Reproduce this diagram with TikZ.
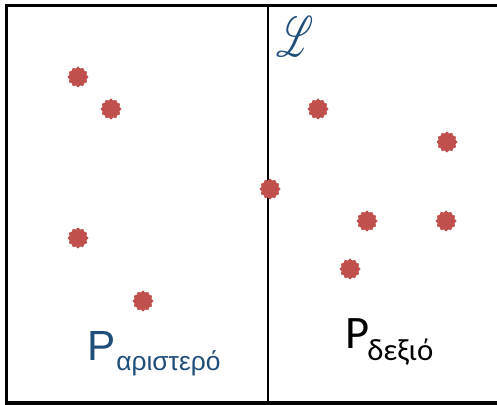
\documentclass[tikz,border=0pt]{standalone}
\usepackage{fontspec}
\usepackage{graphicx}
\usepackage{mathrsfs}
\setmainfont{Carlito}
\newfontfamily\arialfont{Liberation Sans}
\usetikzlibrary{shapes.geometric}
\definecolor{dotred}{HTML}{C0504D}
\definecolor{labelblue}{HTML}{1F4E79}

\begin{document}
\begin{tikzpicture}[
    x=0.02cm, y=-0.02cm,
    % frame and dividing line
    frameline/.style={draw, line width=1.9pt},
    divline/.style={draw, line width=1.4pt},
    % point markers (jagged red dots)
    ptnode/.style={star, star points=12, star point ratio=1.2, fill=dotred, draw=none, minimum size=0.42cm, inner sep=0pt},
    setlabel/.style={inner sep=0pt, anchor=base west}
]
\useasboundingbox (0,0) rectangle (497,405);
\clip (0,0) rectangle (497,405);

% outer frame (right side runs off the picture)
\draw[frameline] (6.5,5.5) rectangle (530,403);

% splitting line L
\coordinate (ltop) at (268,5.5);
\coordinate (lbot) at (268,403);
\draw[divline] (ltop) -- (lbot);
\node[text=labelblue, font=\fontsize{24pt}{24pt}\selectfont] (lname) at (295,37) {\scalebox{0.8}[1.3]{$\mathscr{L}$}};

% the points
\foreach \x/\y [count=\i] in {78/77, 111/109, 78/238, 143/301, 270/189, 318/109, 447/142, 367/221, 446/221, 350/269}
  \node[ptnode] (p\i) at (\x,\y) {};

% set labels
\node[setlabel, text=labelblue, font=\arialfont\fontsize{24pt}{24pt}\selectfont] (pleft) at (87,360) {P};
\node[setlabel, text=labelblue, font=\arialfont\fontsize{15pt}{15pt}\selectfont] (pleftsub) at (116,370) {αριστερό};
\node[setlabel, font=\fontsize{26.5pt}{26.5pt}\selectfont] (pright) at (345,348) {P};
\node[setlabel, font=\fontsize{17.5pt}{17.5pt}\selectfont] (prightsub) at (367,360) {δεξιό};

\end{tikzpicture}
\end{document}
